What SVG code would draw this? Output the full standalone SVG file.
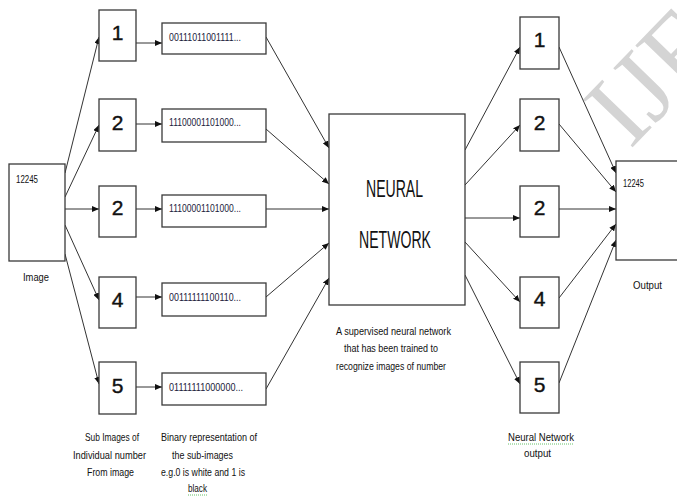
<svg xmlns="http://www.w3.org/2000/svg" width="677" height="498" viewBox="0 0 677 498">
<style>
.box{fill:#fff;stroke:#3a3a3a;stroke-width:1.3}
.ln{fill:none;stroke:#333;stroke-width:1;marker-end:url(#ah)}
.t{font-family:"Liberation Sans",Arial,sans-serif;fill:#111}
.s{font-size:11.5px}
.bin{font-size:10.5px;fill:#1a1a3a}
.big{font-size:21px;stroke:#111;stroke-width:0.4}
.nn{font-size:24px}
.wm{font-family:"Liberation Serif","Times New Roman",serif;font-size:105px;fill:#d4d4d4}
.sq{fill:none;stroke:#3cb043;stroke-width:0.8;stroke-dasharray:1 1}
</style>
<defs>
<marker id="ah" viewBox="0 0 7 6" refX="7" refY="3" markerWidth="7" markerHeight="6" markerUnits="userSpaceOnUse" orient="auto">
<path d="M0,0 L7,3 L0,6 z" fill="#111"/>
</marker>
</defs>
<rect width="677" height="498" fill="#fff"/>
<g id="watermark">
<text class="wm" transform="translate(630,150) rotate(-46)">IJE</text>
</g>
<g id="connectors">
<line class="ln" x1="65" y1="173" x2="99" y2="37"/>
<line class="ln" x1="65" y1="197" x2="99" y2="125"/>
<line class="ln" x1="65" y1="209" x2="99" y2="209"/>
<line class="ln" x1="65" y1="225" x2="99" y2="300"/>
<line class="ln" x1="65" y1="254" x2="99" y2="384"/>
<line class="ln" x1="136" y1="43" x2="162" y2="43"/>
<line class="ln" x1="136" y1="124" x2="162" y2="124"/>
<line class="ln" x1="136" y1="209" x2="162" y2="209"/>
<line class="ln" x1="136" y1="297" x2="162" y2="297"/>
<line class="ln" x1="136" y1="387" x2="162" y2="387"/>
<line class="ln" x1="266" y1="37" x2="329" y2="148"/>
<line class="ln" x1="266" y1="129" x2="329" y2="184"/>
<line class="ln" x1="266" y1="209" x2="329" y2="209"/>
<line class="ln" x1="266" y1="297" x2="329" y2="243"/>
<line class="ln" x1="266" y1="389" x2="329" y2="278"/>
<line class="ln" x1="465" y1="150" x2="520" y2="47"/>
<line class="ln" x1="465" y1="185" x2="520" y2="125"/>
<line class="ln" x1="465" y1="218" x2="520" y2="218"/>
<line class="ln" x1="465" y1="242" x2="520" y2="302"/>
<line class="ln" x1="465" y1="275" x2="520" y2="384"/>
<line class="ln" x1="559" y1="47" x2="616" y2="173"/>
<line class="ln" x1="559" y1="124" x2="616" y2="192"/>
<line class="ln" x1="559" y1="209" x2="616" y2="209"/>
<line class="ln" x1="559" y1="298" x2="616" y2="224"/>
<line class="ln" x1="559" y1="383" x2="616" y2="240"/>
</g>
<g id="image">
<rect class="box" x="9" y="164" width="56" height="97"/>
<text class="t" x="16" y="183" font-size="10" textLength="22" lengthAdjust="spacingAndGlyphs">12245</text>
<text class="t s" x="23" y="281" textLength="26" lengthAdjust="spacingAndGlyphs">Image</text>
</g>
<g id="sub1"><rect class="box" x="99" y="10" width="37" height="51"/><text class="t big" x="117.5" y="40" text-anchor="middle">1</text></g>
<g id="sub2"><rect class="box" x="99" y="99" width="37" height="52"/><text class="t big" x="117.5" y="130" text-anchor="middle">2</text></g>
<g id="sub3"><rect class="box" x="99" y="186" width="37" height="51"/><text class="t big" x="117.5" y="215" text-anchor="middle">2</text></g>
<g id="sub4"><rect class="box" x="99" y="277" width="37" height="51"/><text class="t big" x="117.5" y="307" text-anchor="middle">4</text></g>
<g id="sub5"><rect class="box" x="99" y="362" width="37" height="52"/><text class="t big" x="117.5" y="393" text-anchor="middle">5</text></g>
<g id="bin1"><rect class="box" x="162" y="23" width="104" height="31"/><text class="t bin" x="169" y="41" textLength="72" lengthAdjust="spacingAndGlyphs">00111011001111...</text></g>
<g id="bin2"><rect class="box" x="162" y="109" width="104" height="33"/><text class="t bin" x="169" y="126" textLength="72" lengthAdjust="spacingAndGlyphs">11100001101000...</text></g>
<g id="bin3"><rect class="box" x="162" y="195" width="104" height="32"/><text class="t bin" x="169" y="212" textLength="72" lengthAdjust="spacingAndGlyphs">11100001101000...</text></g>
<g id="bin4"><rect class="box" x="162" y="283" width="104" height="33"/><text class="t bin" x="169" y="301" textLength="72" lengthAdjust="spacingAndGlyphs">00111111100110...</text></g>
<g id="bin5"><rect class="box" x="162" y="373" width="104" height="32"/><text class="t bin" x="169" y="391" textLength="74" lengthAdjust="spacingAndGlyphs">01111111000000...</text></g>
<g id="neural">
<rect class="box" x="329" y="114" width="136" height="191"/>
<text class="t nn" x="366" y="197" textLength="57" lengthAdjust="spacingAndGlyphs">NEURAL</text>
<text class="t nn" x="359" y="248" textLength="72" lengthAdjust="spacingAndGlyphs">NETWORK</text>
</g>
<g id="out1"><rect class="box" x="520" y="17" width="39" height="52"/><text class="t big" x="539.5" y="47" text-anchor="middle">1</text></g>
<g id="out2"><rect class="box" x="520" y="99" width="39" height="52"/><text class="t big" x="539.5" y="130" text-anchor="middle">2</text></g>
<g id="out3"><rect class="box" x="520" y="186" width="39" height="51"/><text class="t big" x="539.5" y="215" text-anchor="middle">2</text></g>
<g id="out4"><rect class="box" x="520" y="277" width="39" height="51"/><text class="t big" x="539.5" y="306" text-anchor="middle">4</text></g>
<g id="out5"><rect class="box" x="520" y="362" width="39" height="51"/><text class="t big" x="539.5" y="392" text-anchor="middle">5</text></g>
<g id="output">
<rect class="box" x="616" y="161" width="72" height="99"/>
<text class="t" x="623" y="187" font-size="10" textLength="21" lengthAdjust="spacingAndGlyphs">12245</text>
<text class="t s" x="633" y="289" textLength="29" lengthAdjust="spacingAndGlyphs">Output</text>
</g>
<g id="labels">
<text class="t s" x="85" y="441" textLength="54" lengthAdjust="spacingAndGlyphs">Sub Images of</text>
<text class="t s" x="73" y="459" textLength="73" lengthAdjust="spacingAndGlyphs">Individual number</text>
<text class="t s" x="87" y="476" textLength="47" lengthAdjust="spacingAndGlyphs">From image</text>
<text class="t s" x="161" y="441" textLength="96" lengthAdjust="spacingAndGlyphs">Binary representation of</text>
<text class="t s" x="172" y="459" textLength="61" lengthAdjust="spacingAndGlyphs">the sub-images</text>
<text class="t s" x="161" y="476" textLength="84" lengthAdjust="spacingAndGlyphs">e.g.0 is white and 1 is</text>
<text class="t s" x="188" y="492" textLength="19" lengthAdjust="spacingAndGlyphs">black</text>
<line class="sq" x1="188" y1="495" x2="207" y2="495"/>
<text class="t s" x="336" y="335" textLength="115" lengthAdjust="spacingAndGlyphs">A supervised neural network</text>
<text class="t s" x="344" y="352" textLength="94" lengthAdjust="spacingAndGlyphs">that has been trained to</text>
<text class="t s" x="336" y="370" textLength="110" lengthAdjust="spacingAndGlyphs">recognize images of number</text>
<text class="t s" x="508" y="441" textLength="66" lengthAdjust="spacingAndGlyphs">Neural  Network</text>
<line class="sq" x1="508" y1="444" x2="574" y2="444"/>
<text class="t s" x="524" y="457" textLength="27" lengthAdjust="spacingAndGlyphs">output</text>
</g>
</svg>
